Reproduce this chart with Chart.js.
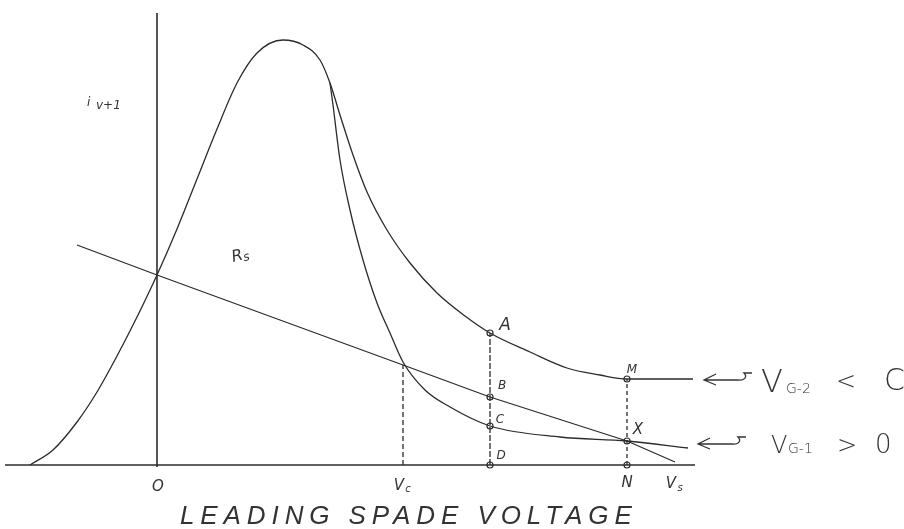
<!DOCTYPE html>
<html>
<head>
<meta charset="utf-8">
<script src="https://cdn.jsdelivr.net/npm/chart.js@4.4.0/dist/chart.umd.min.js"></script>
<style>
  html, body { margin: 0; padding: 0; background: #fff; overflow: hidden; }
  #wrap { width: 904px; height: 529px; position: relative; }
</style>
</head>
<body>
<div id="wrap"><canvas id="sketch"></canvas></div>
<script>
// Leading spade voltage (x) vs current (y), arbitrary sketch units
const vg2X = [-12.7, -10.4, -8, -6, -4, -2, 0, 2, 4, 6, 8, 10, 12.6, 14.6, 16.3, 17.3, 18.3, 19.6, 21, 23, 25.3, 28, 30.8, 33.3, 37.3, 41, 44.3, 47, 53.6];
const vg2Y = [0, 1.5, 4.3, 7.3, 10.9, 14.8, 19, 23.6, 28.6, 33.6, 38.2, 41.2, 42.5, 42, 40.5, 38.2, 35, 31, 27.3, 23.5, 20.2, 17.2, 14.9, 13.2, 11.3, 9.7, 9.0, 8.6, 8.6];

const vg1X = [17.3, 17.6, 18.3, 19.3, 20.6, 22, 23.3, 24.6, 26.8, 29.3, 33.3, 40.3, 47, 53.1];
const vg1Y = [38.2, 36, 30.5, 25.5, 20.5, 16.2, 13.2, 10.3, 7.5, 5.8, 3.9, 2.8, 2.4, 1.7];

const rsX = [-8, 0, 24.6, 33.3, 47, 51.8];
const rsY = [22, 19, 10, 6.8, 2.4, 0.3];

// marked points A B C D M X N
const markNames = ['A', 'B', 'C', 'D', 'M', 'X', 'N'];
const markX = [33.3, 33.3, 33.3, 33.3, 47, 47, 47];
const markY = [13.2, 6.8, 3.9, 0, 8.6, 2.4, 0];

const vcX = 24.6;
const vcY = 10;

function pts(xs, ys) {
    return xs.map((x, i) => ({ x: x, y: ys[i] }));
}

const ink = '#2b2b2b';

// text and little arrows drawn on top of the chart
const sketchLabels = {
    id: 'sketchLabels',
    afterDraw(chart) {
        const ctx = chart.ctx;
        ctx.save();
        ctx.fillStyle = '#333';
        ctx.strokeStyle = '#333';
        ctx.textBaseline = 'alphabetic';

        // y axis label
        ctx.font = 'italic 12px "DejaVu Sans"';
        ctx.fillText('i', 87, 106);
        ctx.fillText('v+1', 96, 109);

        // Rs
        ctx.save();
        ctx.translate(233, 262);
        ctx.rotate(-0.25);
        ctx.font = 'italic 16px "DejaVu Sans"';
        ctx.fillText('R', 0, 0);
        ctx.font = 'italic 12px "DejaVu Sans"';
        ctx.fillText('s', 11, 2);
        ctx.restore();

        // axis marks
        ctx.font = 'italic 15px "DejaVu Sans"';
        ctx.textAlign = 'center';
        ctx.fillText('O', 158, 491);
        ctx.fillText('V', 399, 490);
        ctx.font = 'italic 10px "DejaVu Sans"';
        ctx.fillText('c', 408, 492);

        ctx.font = 'italic 17px "DejaVu Sans"';
        ctx.fillText('A', 505, 330);
        ctx.font = 'italic 12px "DejaVu Sans"';
        ctx.fillText('B', 502, 389);
        ctx.fillText('C', 500, 423);
        ctx.fillText('D', 501, 459);
        ctx.fillText('M', 632, 373);
        ctx.font = 'italic 15px "DejaVu Sans"';
        ctx.fillText('X', 638, 434);
        ctx.fillText('N', 627, 487);
        ctx.fillText('V', 671, 488);
        ctx.font = 'italic 10px "DejaVu Sans"';
        ctx.fillText('s', 680, 491);

        // title
        ctx.font = 'italic 26px "Liberation Sans"';
        ctx.textAlign = 'left';
        const title = 'LEADING SPADE VOLTAGE';
        const w = ctx.measureText(title).width;
        ctx.letterSpacing = ((452 - w) / (title.length - 1)).toFixed(1) + 'px';
        ctx.fillText(title, 180, 524);
        ctx.letterSpacing = '0px';

        // arrows pointing at the curves
        function arrow(x0, x1, y) {
            ctx.lineWidth = 1.3;
            ctx.beginPath();
            ctx.moveTo(x0 + 12, y - 5);
            ctx.lineTo(x0, y + 1);
            ctx.lineTo(x0 + 12, y + 6);
            ctx.moveTo(x0, y + 1);
            ctx.lineTo(x1 - 14, y + 1);
            ctx.bezierCurveTo(x1 - 8, y + 2, x1 - 4, y - 2, x1 - 8, y - 6);
            ctx.lineTo(x1, y - 6);
            ctx.stroke();
        }
        arrow(704, 752, 379);
        arrow(698, 746, 443);

        ctx.textAlign = 'left';
        ctx.font = '200 32px "DejaVu Sans"';
        ctx.fillText('V', 761, 392);
        ctx.font = '200 14px "DejaVu Sans"';
        ctx.fillText('G-2', 786, 393);
        ctx.font = '200 24px "DejaVu Sans"';
        ctx.fillText('<', 836, 389);
        ctx.font = '200 30px "DejaVu Sans"';
        ctx.fillText('C', 884, 390);

        ctx.font = '200 24px "DejaVu Sans"';
        ctx.fillText('V', 771, 453);
        ctx.font = '200 14px "DejaVu Sans"';
        ctx.fillText('G-1', 788, 453);
        ctx.font = '200 24px "DejaVu Sans"';
        ctx.fillText('>', 837, 453);
        ctx.font = '200 26px "DejaVu Sans"';
        ctx.fillText('0', 875, 453);

        ctx.restore();
    }
};

const lineStyle = {
    showLine: true,
    borderColor: ink,
    borderWidth: 1.3,
    pointRadius: 0,
    fill: false
};

new Chart(document.getElementById('sketch'), {
    type: 'scatter',
    data: {
        datasets: [
            Object.assign({ label: 'x axis', data: [{ x: -15.2, y: 0 }, { x: 53.8, y: 0 }] }, lineStyle, { borderWidth: 1.6 }),
            Object.assign({ label: 'y axis', data: [{ x: 0, y: -0.2 }, { x: 0, y: 45.2 }] }, lineStyle, { borderWidth: 1.6 }),
            Object.assign({ label: 'Vg-2 < 0', data: pts(vg2X, vg2Y), cubicInterpolationMode: 'monotone' }, lineStyle),
            Object.assign({ label: 'Vg-1 > 0', data: pts(vg1X, vg1Y), cubicInterpolationMode: 'monotone' }, lineStyle),
            Object.assign({ label: 'Rs', data: pts(rsX, rsY) }, lineStyle),
            Object.assign({ label: 'Vc', data: [{ x: vcX, y: 0 }, { x: vcX, y: vcY }], borderDash: [5, 3] }, lineStyle),
            Object.assign({ label: 'AD', data: [{ x: markX[3], y: markY[3] }, { x: markX[0], y: markY[0] }], borderDash: [6, 2] }, lineStyle),
            Object.assign({ label: 'MN', data: [{ x: markX[6], y: markY[6] }, { x: markX[4], y: markY[4] }], borderDash: [4, 3] }, lineStyle),
            {
                label: 'marks',
                data: pts(markX, markY),
                showLine: false,
                pointRadius: 3,
                pointBackgroundColor: '#fff',
                pointBorderColor: ink,
                pointBorderWidth: 1.2
            }
        ]
    },
    options: {
        responsive: true,
        maintainAspectRatio: false,
        animation: false,
        layout: { padding: 0, autoPadding: false },
        plugins: {
            legend: { display: false },
            tooltip: { enabled: false }
        },
        scales: {
            x: { type: 'linear', min: -15.7, max: 74.7, display: false },
            y: { type: 'linear', min: -6.4, max: 46.5, display: false }
        }
    },
    plugins: [sketchLabels]
});
</script>
</body>
</html>
